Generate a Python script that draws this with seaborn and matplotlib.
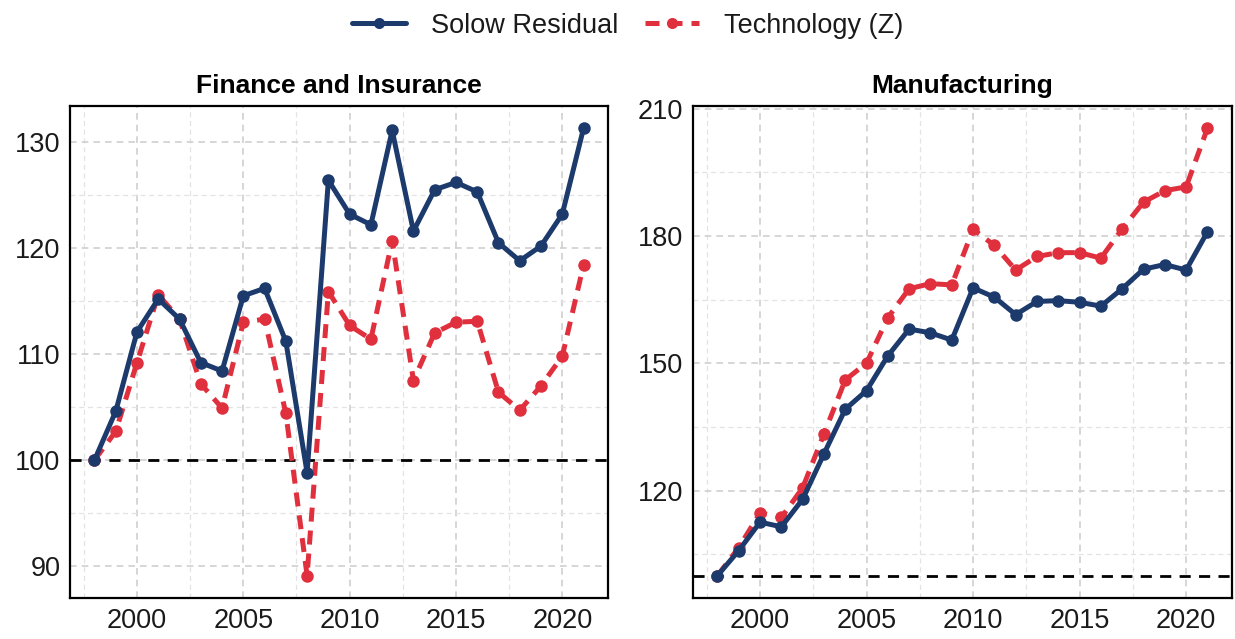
import numpy as np
import pandas as pd
import matplotlib
matplotlib.use("Agg")
import matplotlib.pyplot as plt
import seaborn as sns
from matplotlib.ticker import MultipleLocator

years = list(range(1998, 2022))

finance_solow = [100.0, 104.6, 112.1, 115.2, 113.3, 109.2, 108.4, 115.5, 116.2, 111.2,
                 98.8, 126.4, 123.2, 122.2, 131.1, 121.6, 125.5, 126.2, 125.3, 120.5,
                 118.8, 120.2, 123.2, 131.3]
finance_tech = [100.0, 102.7, 109.2, 115.6, 113.3, 107.2, 104.9, 113.0, 113.3, 104.4,
                89.1, 115.9, 112.7, 111.4, 120.7, 107.5, 112.0, 113.0, 113.1, 106.4,
                104.7, 107.0, 109.8, 118.4]
manuf_solow = [100.0, 105.9, 112.6, 111.5, 118.0, 128.7, 139.2, 143.6, 151.8, 158.1,
               157.2, 155.5, 167.8, 165.6, 161.5, 164.6, 164.8, 164.4, 163.5, 167.6,
               172.2, 173.3, 172.0, 181.0]
manuf_tech = [100.0, 106.6, 114.8, 113.7, 120.7, 133.4, 146.1, 150.1, 160.8, 167.6,
              168.8, 168.5, 181.6, 177.8, 172.0, 175.2, 176.1, 176.1, 174.8, 181.7,
              188.0, 190.7, 191.6, 205.4]

series_names = ["Solow Residual", "Technology (Z)"]
panel_titles = ["Finance and Insurance", "Manufacturing"]
x_ticks = [2000, 2005, 2010, 2015, 2020]
y_ticks = [[90, 100, 110, 120, 130], [120, 150, 180, 210]]
baseline = 100

NAVY = "#1c3a6b"
RED = "#e0303e"
LW = 3.6
MS = 9
RED_DASH = (0, (2.8, 1.8))

sns.set_theme(style="white")
plt.rcParams["font.family"] = ["Liberation Sans", "DejaVu Sans"]

fig = plt.figure(figsize=(12.35, 6.39), dpi=100)
ax_l = fig.add_axes([0.0567, 0.0642, 0.4356, 0.770])
ax_r = fig.add_axes([0.5611, 0.0642, 0.4364, 0.770])

panels = [
    (ax_l, finance_solow, finance_tech, panel_titles[0], y_ticks[0], 5),
    (ax_r, manuf_solow, manuf_tech, panel_titles[1], y_ticks[1], 15),
]

for ax, solow, tech, title, yt, yminor in panels:
    df = pd.DataFrame({
        "year": years * 2,
        "value": solow + tech,
        "series": [series_names[0]] * len(years) + [series_names[1]] * len(years),
    })
    ax.axhline(baseline, color="black", lw=2.0, ls=(0, (4, 3)), zorder=2)
    sns.lineplot(data=df[df.series == series_names[1]], x="year", y="value", ax=ax,
                 color=RED, lw=LW, marker="o", markersize=MS, markeredgewidth=0,
                 linestyle=RED_DASH, zorder=3, legend=False)
    sns.lineplot(data=df[df.series == series_names[0]], x="year", y="value", ax=ax,
                 color=NAVY, lw=LW, marker="o", markersize=MS, markeredgewidth=0,
                 zorder=4, legend=False)

    lo, hi = min(solow + tech + [baseline]), max(solow + tech + [baseline])
    pad = 0.05 * (hi - lo)
    ax.set_ylim(lo - pad, hi + pad)
    ax.set_xlim(1998 - 0.05 * 23, 2021 + 0.05 * 23)
    ax.set_xticks(x_ticks)
    ax.set_yticks(yt)
    ax.xaxis.set_minor_locator(MultipleLocator(2.5))
    ax.yaxis.set_minor_locator(MultipleLocator(yminor))
    ax.grid(True, which="major", color="#cfcfcf", lw=1.2, ls=(0, (4, 3)))
    ax.grid(True, which="minor", color="#e3e3e3", lw=0.9, ls=(0, (4, 3)))
    ax.set_axisbelow(True)
    for s in ax.spines.values():
        s.set_color("black")
        s.set_linewidth(1.6)
    ax.tick_params(axis="both", which="major", direction="out", length=5, width=1.3,
                   color="black", labelsize=19.5, labelcolor="#1a1a1a", pad=2)
    ax.tick_params(axis="both", which="minor", length=0)
    ax.set_xlabel("")
    ax.set_ylabel("")
    ax.set_title(title, fontsize=19, fontweight="bold", color="black", pad=9)

handles = [
    plt.Line2D([], [], color=NAVY, lw=LW, marker="o", markersize=8, markeredgewidth=0),
    plt.Line2D([], [], color=RED, lw=LW, ls=RED_DASH, marker="o", markersize=8,
               markeredgewidth=0),
]
fig.legend(handles, series_names, loc="upper center", bbox_to_anchor=(0.508, 1.018),
           ncol=2, frameon=False, fontsize=19.5, handlelength=2.0, columnspacing=1.0,
           handletextpad=0.9, labelcolor="#1a1a1a")

fig.savefig("out.png", dpi=100)
